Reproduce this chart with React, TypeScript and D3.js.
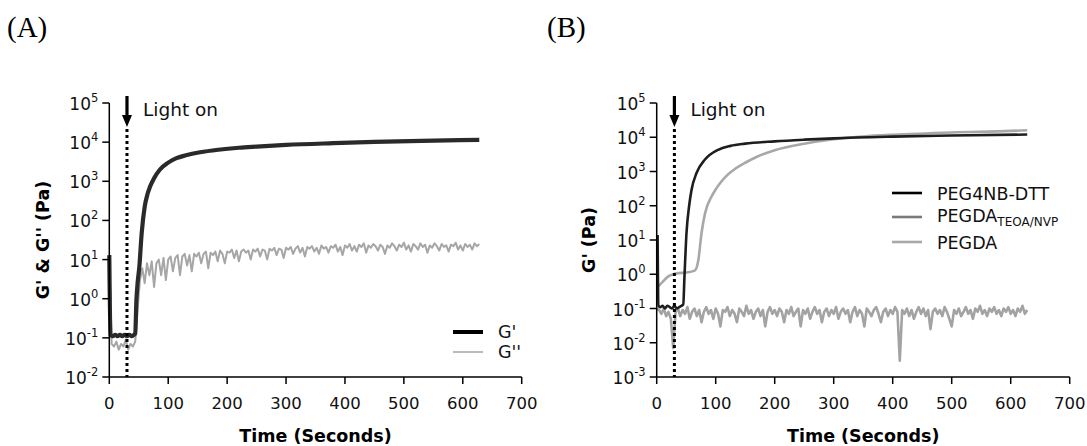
import React from 'react';
import * as d3 from 'd3';

// ---------- shared axis data ----------
const X_TICKS = [0, 100, 200, 300, 400, 500, 600, 700];
const A_Y_EXPONENTS = [-2, -1, 0, 1, 2, 3, 4, 5];
const B_Y_EXPONENTS = [-3, -2, -1, 0, 1, 2, 3, 4, 5];
const LIGHT_ON_TIME = 30;

// ---------- Panel A ----------
const A_GPRIME_T = [0, 2, 6, 10, 14, 18, 22, 26, 30, 34, 38, 42, 44, 46, 48, 51, 55, 60, 65, 69, 76, 86, 100, 114, 130, 154, 185, 220, 250, 300, 380, 450, 530, 628];
const A_GPRIME_V = [13, 0.12, 0.11, 0.12, 0.11, 0.12, 0.11, 0.12, 0.11, 0.12, 0.11, 0.12, 0.13, 0.9, 2.5, 6.6, 48, 220, 480, 720, 1200, 2000, 3000, 3900, 4600, 5500, 6400, 7200, 7700, 8500, 9400, 10100, 10800, 11400];

const A_GDPRIME_STEP = 4; // sampling interval (s)
const A_GDPRIME_V = [
  12, 0.07, 0.06, 0.08, 0.05, 0.07, 0.06, 0.09, 0.05, 0.07, 0.06, 0.08, 0.5, 3, 6, 2.5,
  8, 4, 9, 2, 8, 10, 4, 11, 3, 10, 12, 5, 11, 13, 4, 12,
  14, 7, 13, 5, 14, 12, 15, 8, 14, 16, 6, 15, 13, 16, 9, 17,
  14, 8, 16, 15, 18, 11, 17, 9, 16, 18, 15, 17, 10, 18, 16, 19,
  12, 18, 17, 10, 19, 17, 20, 13, 19, 18, 11, 20, 18, 21, 14, 19,
  22, 15, 20, 12, 21, 19, 22, 16, 20, 14, 23, 19, 21, 15, 22, 20,
  24, 16, 21, 13, 23, 20, 25, 17, 22, 16, 24, 21, 26, 15, 23, 20,
  25, 22, 17, 24, 21, 14, 23, 20, 26, 22, 17, 24, 21, 27, 18, 23,
  16, 25, 22, 18, 26, 21, 24, 15, 23, 20, 26, 22, 17, 25, 21, 23,
  16, 24, 22, 27, 18, 23, 17, 25, 21, 24, 18, 26, 22, 25
];

// ---------- Panel B ----------
const B_PEG4NB_T = [1.5, 3, 6, 10, 14, 18, 22, 26, 30, 34, 38, 42, 45, 47, 50.5, 55, 59, 67.5, 81.5, 104, 125, 150, 200, 250, 300, 400, 500, 628];
const B_PEG4NB_V = [14, 0.12, 0.11, 0.12, 0.1, 0.12, 0.11, 0.1, 0.12, 0.1, 0.11, 0.12, 0.13, 0.8, 16, 100, 290, 900, 2200, 4300, 5600, 6500, 7600, 8500, 9300, 10400, 11200, 12000];

const B_PEGDA_T = [2.7, 10, 19.7, 28, 36.6, 50, 65, 70.6, 76, 81.9, 93, 100, 110, 120, 133, 150, 170, 200, 250, 300, 350, 400, 500, 600, 628];
const B_PEGDA_V = [0.44, 0.6, 0.87, 1.0, 1.08, 1.12, 1.3, 2.6, 16, 60, 186, 300, 520, 800, 1200, 1800, 2700, 4200, 6500, 8800, 10500, 11800, 13800, 15300, 16000];

const B_TEOA_STEP = 4; // sampling interval (s)
const B_TEOA_V = [
  0.1, 0.09, 0.07, 0.1, 0.06, 0.08, 0.05, 0.007, 0.08, 0.1, 0.06, 0.09, 0.07, 0.11, 0.05, 0.08,
  0.1, 0.06, 0.09, 0.04, 0.08, 0.11, 0.07, 0.09, 0.05, 0.1, 0.07, 0.03, 0.09, 0.08, 0.11, 0.06,
  0.09, 0.07, 0.04, 0.1, 0.08, 0.06, 0.12, 0.07, 0.09, 0.05, 0.08, 0.1, 0.06, 0.09, 0.03, 0.08,
  0.11, 0.07, 0.09, 0.06, 0.1, 0.08, 0.04, 0.09, 0.07, 0.11, 0.06, 0.08, 0.1, 0.03, 0.09, 0.07,
  0.1, 0.05, 0.08, 0.11, 0.07, 0.09, 0.04, 0.08, 0.1, 0.06, 0.09, 0.07, 0.11, 0.05, 0.08, 0.1,
  0.07, 0.09, 0.04, 0.08, 0.11, 0.06, 0.09, 0.07, 0.03, 0.1, 0.08, 0.06, 0.09, 0.11, 0.07, 0.04,
  0.08, 0.1, 0.06, 0.09, 0.07, 0.11, 0.08, 0.003, 0.09, 0.07, 0.1, 0.06, 0.09, 0.05, 0.08, 0.11,
  0.07, 0.1, 0.06, 0.09, 0.025, 0.08, 0.1, 0.07, 0.09, 0.06, 0.11, 0.08, 0.05, 0.03, 0.09, 0.07,
  0.1, 0.06, 0.08, 0.11, 0.07, 0.09, 0.05, 0.1, 0.08, 0.12, 0.07, 0.09, 0.06, 0.1, 0.08, 0.11,
  0.07, 0.09, 0.06, 0.1, 0.08, 0.11, 0.07, 0.09, 0.06, 0.1, 0.08, 0.12, 0.07, 0.09
];

const FONT = "'DejaVu Sans', sans-serif";

type Pt = [number, number];

function zip(ts: number[], vs: number[]): Pt[] {
  return ts.map((t, i) => [t, vs[i]] as Pt);
}
function sampled(step: number, vs: number[]): Pt[] {
  return vs.map((v, i) => [i * step, v] as Pt);
}

interface PanelProps {
  left: number;
  right: number;
  top: number;
  bottom: number;
  exps: number[];
  yTitle: string;
  yTitleX: number;
  children: (x: d3.ScaleLinear<number, number>, y: d3.ScaleLogarithmic<number, number>) => React.ReactNode;
}

function Panel({ left, right, top, bottom, exps, yTitle, yTitleX, children }: PanelProps) {
  const x = d3.scaleLinear().domain([0, 700]).range([left, right]);
  const y = d3.scaleLog().domain([Math.pow(10, exps[0]), Math.pow(10, exps[exps.length - 1])]).range([bottom, top]);
  const ax = x(LIGHT_ON_TIME);
  return (
    <g>
      {children(x, y)}
      <line x1={ax} x2={ax} y1={129} y2={bottom} stroke="#000" strokeWidth={3} strokeDasharray="3 3" />
      <line x1={ax} x2={ax} y1={96} y2={117} stroke="#000" strokeWidth={3.2} />
      <path d={`M${ax - 5},${115} L${ax + 5},${115} L${ax},${127} Z`} fill="#000" />
      <text x={ax + 16} y={116} fontFamily={FONT} fontSize={18.5} fill="#111">Light on</text>
      <line x1={left} x2={left} y1={top} y2={bottom} stroke="#000" strokeWidth={1.5} />
      {exps.map((e) => {
        const yy = y(Math.pow(10, e));
        return (
          <g key={e}>
            <line x1={left - 7} x2={left} y1={yy} y2={yy} stroke="#000" strokeWidth={1.5} />
            <text x={left - 11} y={yy + 7} textAnchor="end" fontFamily={FONT} fontSize={17} fill="#111">
              <tspan>10</tspan>
              <tspan dy={-8} fontSize={11.5}>{String(e)}</tspan>
            </text>
          </g>
        );
      })}
      <line x1={left} x2={right} y1={bottom} y2={bottom} stroke="#000" strokeWidth={1.5} />
      {X_TICKS.map((t) => (
        <g key={t}>
          <line x1={x(t)} x2={x(t)} y1={bottom} y2={bottom + 7} stroke="#000" strokeWidth={1.5} />
          <text x={x(t)} y={bottom + 32} textAnchor="middle" fontFamily={FONT} fontSize={16.5} fill="#111">{t}</text>
        </g>
      ))}
      <text x={(left + right) / 2} y={442} textAnchor="middle" fontFamily={FONT} fontWeight="bold" fontSize={17.5} fill="#000">Time (Seconds)</text>
      <text transform={`translate(${yTitleX},${(top + bottom) / 2}) rotate(-90)`} textAnchor="middle" fontFamily={FONT} fontWeight="bold" fontSize={17.5} fill="#000">{yTitle}</text>
    </g>
  );
}

export default function App() {
  const smooth = (x: any, y: any) => d3.line<Pt>().x((d) => x(d[0])).y((d) => y(d[1])).curve(d3.curveMonotoneX);
  const raw = (x: any, y: any) => d3.line<Pt>().x((d) => x(d[0])).y((d) => y(d[1]));

  return (
    <svg width={1087} height={446} style={{ position: 'absolute', left: 0, top: 0, background: '#fff' }}>
      <rect x={0} y={0} width={1087} height={446} fill="#fff" />
      <text x={7} y={37} fontFamily="'Liberation Serif', 'Times New Roman', serif" fontSize={29} fill="#000">(A)</text>
      <text x={547} y={37} fontFamily="'Liberation Serif', 'Times New Roman', serif" fontSize={29} fill="#000">(B)</text>

      <Panel left={109.3} right={521.7} top={103} bottom={377} exps={A_Y_EXPONENTS} yTitle={"G' & G'' (Pa)"} yTitleX={49}>
        {(x, y) => (
          <g>
            <path d={raw(x, y)(sampled(A_GDPRIME_STEP, A_GDPRIME_V)) || ''} fill="none" stroke="#a6a6a6" strokeWidth={2} strokeLinejoin="round" />
            <path d={smooth(x, y)(zip(A_GPRIME_T, A_GPRIME_V)) || ''} fill="none" stroke="#2a2a2a" strokeWidth={4.2} strokeLinejoin="round" />
            <line x1={453} x2={483} y1={332} y2={332} stroke="#000" strokeWidth={4} />
            <line x1={453} x2={483} y1={352} y2={352} stroke="#bbb" strokeWidth={2} />
            <text x={498} y={338} fontFamily={FONT} fontSize={17.5} fill="#111">G'</text>
            <text x={498} y={358} fontFamily={FONT} fontSize={17.5} fill="#111">G''</text>
          </g>
        )}
      </Panel>

      <Panel left={656.7} right={1069.7} top={103} bottom={377} exps={B_Y_EXPONENTS} yTitle={"G' (Pa)"} yTitleX={595}>
        {(x, y) => (
          <g>
            <path d={raw(x, y)(sampled(B_TEOA_STEP, B_TEOA_V)) || ''} fill="none" stroke="#a3a3a3" strokeWidth={2.6} strokeLinejoin="round" />
            <path d={smooth(x, y)(zip(B_PEGDA_T, B_PEGDA_V)) || ''} fill="none" stroke="#a8a8a8" strokeWidth={2.6} strokeLinejoin="round" />
            <path d={smooth(x, y)(zip(B_PEG4NB_T, B_PEG4NB_V)) || ''} fill="none" stroke="#1e1e1e" strokeWidth={2.6} strokeLinejoin="round" />
            <line x1={892} x2={922} y1={193} y2={193} stroke="#000" strokeWidth={2.6} />
            <line x1={892} x2={922} y1={217} y2={217} stroke="#7a7a7a" strokeWidth={2.6} />
            <line x1={892} x2={922} y1={242} y2={242} stroke="#a8a8a8" strokeWidth={2.6} />
            <text x={937} y={199.5} fontFamily={FONT} fontSize={17.5} fill="#111">PEG4NB-DTT</text>
            <text x={937} y={222} fontFamily={FONT} fontSize={17.5} fill="#111">
              <tspan>PEGDA</tspan>
              <tspan dy={4} fontSize={12}>TEOA/NVP</tspan>
            </text>
            <text x={937} y={248.5} fontFamily={FONT} fontSize={17.5} fill="#111">PEGDA</text>
          </g>
        )}
      </Panel>
    </svg>
  );
}
